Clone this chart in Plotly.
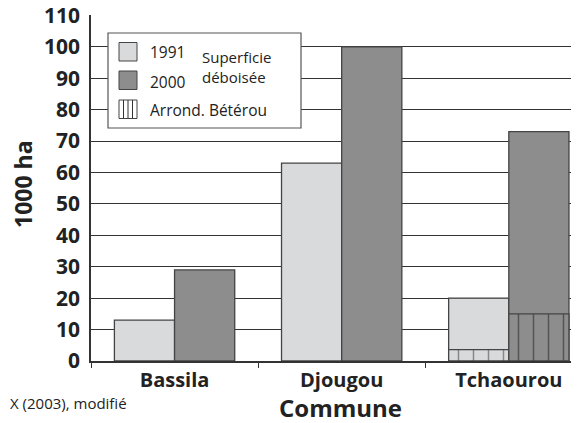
import plotly.graph_objects as go

# ---- data ----
communes = ["Bassila", "Djougou", "Tchaourou"]
deforest_1991 = [13, 63, 20]
deforest_2000 = [29, 100, 73]
beterou_communes = ["Tchaourou"]
beterou_1991 = [3.6]
beterou_2000 = [15]
y_ticks = [0, 10, 20, 30, 40, 50, 60, 70, 80, 90, 100, 110]

# ---- style ----
C91 = "#d9dadb"
C00 = "#8d8d8d"
EDGE = "#444444"
FONT = "Open Sans"
BW = 0.36

OFF = 8  # page body margin
W, H = 579 - OFF, 423 - OFF
ML, MT = 91 - OFF, 15 - OFF
MR = 0
MB = 62
PW, PH = W - ML - MR, H - MT - MB
Y_BOTTOM = H - MB + OFF  # page pixel of y=0


def px(x):
    return (x - OFF - ML) / PW


def py(y):
    return (Y_BOTTOM - y) / PH


fig = go.Figure()
fig.add_trace(go.Bar(x=communes, y=deforest_1991, offset=-BW, width=BW,
                     marker=dict(color=C91, line=dict(color=EDGE, width=1.3)),
                     showlegend=False))
fig.add_trace(go.Bar(x=communes, y=deforest_2000, offset=0, width=BW,
                     marker=dict(color=C00, line=dict(color=EDGE, width=1.3)),
                     showlegend=False))
fig.add_trace(go.Bar(x=beterou_communes, y=beterou_1991, offset=-BW, width=BW,
                     marker=dict(color=C91, line=dict(color=EDGE, width=1.3),
                                 pattern=dict(shape="|", size=15, solidity=0.1,
                                              fgcolor="#333333", bgcolor=C91)),
                     showlegend=False))
fig.add_trace(go.Bar(x=beterou_communes, y=beterou_2000, offset=0, width=BW,
                     marker=dict(color=C00, line=dict(color=EDGE, width=1.3),
                                 pattern=dict(shape="|", size=15, solidity=0.1,
                                              fgcolor="#1a1a1a", bgcolor=C00)),
                     showlegend=False))

shapes = []
annotations = []
# legend box
shapes.append(dict(type="rect", xref="paper", yref="paper",
                   x0=px(108), x1=px(301), y0=py(128), y1=py(33),
                   fillcolor="white", line=dict(color="#555555", width=1.2),
                   layer="above"))
sw = [(42.5, C91), (71, C00), (100, "white")]
for top, col in sw:
    shapes.append(dict(type="rect", xref="paper", yref="paper",
                       x0=px(119), x1=px(137), y0=py(top + 18.5), y1=py(top),
                       fillcolor=col, line=dict(color="#444444", width=1),
                       layer="above"))
for lx in (123.5, 128, 132.5):
    shapes.append(dict(type="line", xref="paper", yref="paper",
                       x0=px(lx), x1=px(lx), y0=py(118.5), y1=py(100),
                       line=dict(color="#333333", width=1), layer="above"))
leg_texts = [("1991", 52.3), ("2000", 81.5), ("Arrond. Bétérou", 110)]
for t, yc in leg_texts:
    annotations.append(dict(text=t, xref="paper", yref="paper", x=px(148),
                            y=py(yc), xanchor="left", yanchor="middle",
                            showarrow=False,
                            font=dict(family=FONT, size=15.5, color="#222")))
annotations.append(dict(text="Superficie<br>déboisée", xref="paper", yref="paper",
                        x=px(200), y=py(67), xanchor="left", yanchor="middle",
                        align="left", showarrow=False,
                        font=dict(family=FONT, size=15, color="#222")))
# axis titles
annotations.append(dict(text="<b>1000 ha</b>", xref="paper", yref="paper",
                        x=px(23), y=py(184), xanchor="center", yanchor="middle",
                        textangle=-90, showarrow=False,
                        font=dict(family=FONT, size=23, color="#222")))
annotations.append(dict(text="<b>Commune</b>", xref="paper", yref="paper",
                        x=px(340), y=py(407), xanchor="center", yanchor="middle",
                        showarrow=False,
                        font=dict(family=FONT, size=24, color="#222")))
# source
annotations.append(dict(text="X (2003), modifié", xref="paper", yref="paper",
                        x=px(8), y=py(403), xanchor="left", yanchor="middle",
                        showarrow=False,
                        font=dict(family=FONT, size=15, color="#222")))

fig.update_layout(
    width=W, height=H,
    margin=dict(l=ML, r=MR, t=MT, b=MB, pad=0),
    paper_bgcolor="white", plot_bgcolor="white",
    barmode="overlay",
    font=dict(family=FONT, color="#222222"),
    shapes=shapes, annotations=annotations,
    xaxis=dict(range=[-0.5, 2.42], showline=True, linecolor="#333333",
               linewidth=1.5, ticks="outside", tickson="boundaries",
               ticklen=5, tickcolor="#333333", showgrid=False,
               automargin=False, ticklabeloverflow="allow",
               tickfont=dict(family=FONT, size=20, color="#222", weight="bold")),
    yaxis=dict(range=[0, 110.15], tickmode="array", tickvals=y_ticks,
               showline=True,
               linecolor="#333333", linewidth=1.5, showgrid=True,
               gridcolor="#333333", gridwidth=1, ticks="",
               ticklabelstandoff=5, zeroline=False, automargin=False,
               ticklabeloverflow="allow",
               tickfont=dict(family=FONT, size=21, color="#222", weight="bold")),
)

fig.write_html("out.html")
